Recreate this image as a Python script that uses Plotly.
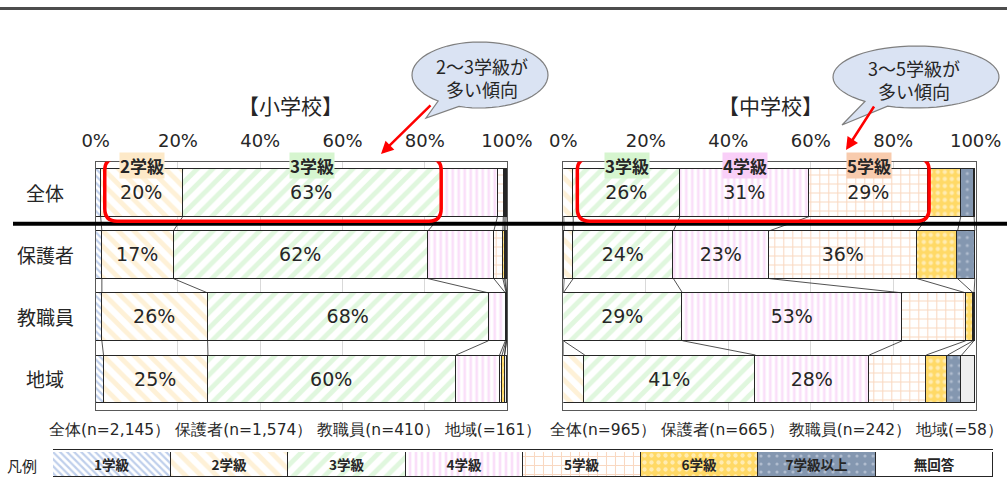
import plotly.graph_objects as go
import math

W, H = 1007, 477


def fx(px):
    return px / W


def fy(py):
    return 1 - py / H


# ---------------- data ----------------
categories = ["全体", "保護者", "教職員", "地域"]
series = ["1学級", "2学級", "3学級", "4学級", "5学級", "6学級", "7学級以上", "無回答"]

# 小学校 (%), order = categories
es_g1 = [1.2, 1.5, 1.5, 1.9]
es_g2 = [20.0, 17.4, 25.7, 25.4]
es_g3 = [62.6, 61.9, 68.3, 60.3]
es_g4 = [13.9, 16.0, 4.1, 10.6]
es_g5 = [1.4, 2.2, 0.2, 0.6]
es_g6 = [0.4, 0.4, 0.1, 0.6]
es_g7 = [0.3, 0.3, 0.0, 0.0]
es_na = [0.2, 0.3, 0.1, 0.6]

# 中学校 (%)
js_g1 = [0.1, 0.2, 0.0, 0.0]
js_g2 = [2.3, 2.2, 0.0, 5.2]
js_g3 = [25.9, 24.3, 28.9, 41.4]
js_g4 = [31.4, 23.3, 53.3, 27.6]
js_g5 = [28.8, 35.8, 15.4, 13.8]
js_g6 = [7.9, 9.8, 1.8, 5.2]
js_g7 = [3.2, 4.2, 0.2, 3.4]
js_na = [0.4, 0.2, 0.4, 3.4]

es_values = [es_g1, es_g2, es_g3, es_g4, es_g5, es_g6, es_g7, es_na]
js_values = [js_g1, js_g2, js_g3, js_g4, js_g5, js_g6, js_g7, js_na]

es_n_labels = ["全体(n=2,145）", "保護者(n=1,574）", "教職員(n=410）", "地域(=161）"]
js_n_labels = ["全体(n=965）", "保護者(n=665）", "教職員(n=242）", "地域(=58）"]

tick_vals = [0, 20, 40, 60, 80, 100]
tick_text = [f"{v}%" for v in tick_vals]
label_threshold = 17

es_title = "【小学校】"
js_title = "【中学校】"
es_highlight = ["2学級", "3学級"]
js_highlight = ["3学級", "4学級", "5学級"]
es_callout = "2～3学級が<br>多い傾向"
js_callout = "3～5学級が<br>多い傾向"

# ---------------- styles ----------------
CJK = "Noto Sans CJK JP"
NUM = "DejaVu Sans"
TXT = "#262626"

styles = {
    "1学級": dict(bg="#ffffff", fg="#7f9fd8", shape="\\", size=5, sol=0.45),
    "2学級": dict(bg="#ffffff", fg="#fde3b0", shape="\\", size=11, sol=0.45),
    "3学級": dict(bg="#ffffff", fg="#c2efbd", shape="/", size=11, sol=0.45),
    "4学級": dict(bg="#ffffff", fg="#f6c0f3", shape="|", size=6, sol=0.45),
    "5学級": dict(bg="#ffffff", fg="#f4b183", shape="+", size=9, sol=0.22),
    "6学級": dict(bg="#ffd966", fg="#ffffff", shape=".", size=7, sol=0.3),
    "7学級以上": dict(bg="#8497b0", fg="#dde4ee", shape=".", size=8, sol=0.12),
    "無回答": dict(bg="#eeeeee", fg="#eeeeee", shape="", size=8, sol=0.2),
}
label_bg = {"2学級": "#fde9c8", "3学級": "#d6f5cf", "4学級": "#f9cff8", "5学級": "#f8cbad"}

BAR_W = 0.77

fig = go.Figure()


def add_chart(values, xa, ya):
    ys = list(range(len(categories)))
    for name, vals in zip(series, values):
        st = styles[name]
        fig.add_trace(go.Bar(
            y=ys, x=vals, orientation="h", width=BAR_W,
            xaxis=xa, yaxis=ya, name=name, showlegend=False,
            marker=dict(color=st["bg"], line=dict(color=TXT, width=1),
                        pattern=dict(shape=st["shape"], fgcolor=st["fg"], bgcolor=st["bg"],
                                     size=st["size"], solidity=st["sol"], fillmode="overlay")),
            text=[f"{v:.0f}%" if v >= label_threshold else "" for v in vals],
            textposition="inside", insidetextanchor="middle", textangle=0,
            textfont=dict(family=NUM, size=19, color=TXT),
            hoverinfo="skip"))
    # series lines between bars
    cum = [[sum(values[k][i] for k in range(j + 1)) for j in range(len(series))]
           for i in range(len(categories))]
    half = BAR_W / 2
    xs, yy = [], []
    for i in range(len(categories) - 1):
        for j in range(len(series) - 1):
            xs += [cum[i][j], cum[i + 1][j], None]
            yy += [i + half, i + 1 - half, None]
    fig.add_trace(go.Scatter(x=xs, y=yy, mode="lines", xaxis=xa, yaxis=ya,
                             line=dict(color=TXT, width=0.8), showlegend=False, hoverinfo="skip"))
    return cum


es_cum = add_chart(es_values, "x", "y")
js_cum = add_chart(js_values, "x2", "y2")

# legend strip
for name in series:
    st = styles[name]
    bg = "#ffffff" if name == "無回答" else st["bg"]
    fig.add_trace(go.Bar(
        y=[0], x=[1], orientation="h", width=1, xaxis="x3", yaxis="y3", showlegend=False,
        marker=dict(color=bg, line=dict(color=TXT, width=1),
                    pattern=dict(shape=st["shape"], fgcolor=st["fg"] if name != "無回答" else "#ffffff",
                                 bgcolor=bg, size=st["size"], solidity=st["sol"], fillmode="overlay")),
        text=[f"<b>{name}</b>"], textposition="inside", insidetextanchor="middle", textangle=0,
        textfont=dict(family=CJK, size=15, color=TXT), hoverinfo="skip"))

# ---------------- layout ----------------
ydom = [fy(410), fy(161.5)]
xdom1 = [fx(95.7), fx(507)]
xdom2 = [fx(563.3), fx(975.7)]

axis_common = dict(range=[0, 100], side="top", tickmode="array", tickvals=tick_vals, ticktext=tick_text,
                   showgrid=True, gridcolor="#d9d9d9", gridwidth=1, showline=True, mirror=True,
                   linecolor="#595959", linewidth=1, zeroline=False, ticks="",
                   tickfont=dict(family=NUM, size=18, color=TXT), fixedrange=True,
                   ticklabelstandoff=6, automargin=False)
yaxis_common = dict(range=[len(categories) - 0.5, -0.5], domain=ydom, showticklabels=False,
                    showgrid=False, showline=True, mirror=True, linecolor="#595959",
                    linewidth=1, zeroline=False, ticks="", fixedrange=True, automargin=False)

fig.update_layout(
    width=W, height=H, margin=dict(l=0, r=0, t=0, b=0, autoexpand=False),
    paper_bgcolor="white", plot_bgcolor="white", barmode="stack", bargap=0,
    xaxis=dict(domain=xdom1, anchor="y", **axis_common),
    yaxis=dict(anchor="x", **yaxis_common),
    xaxis2=dict(domain=xdom2, anchor="y2", **axis_common),
    yaxis2=dict(anchor="x2", **yaxis_common),
    xaxis3=dict(domain=[fx(53), fx(993)], range=[0, len(series)], visible=False, anchor="y3",
                fixedrange=True, automargin=False),
    yaxis3=dict(domain=[0, fy(452)], range=[-0.5, 0.5], visible=False, anchor="x3",
                fixedrange=True, automargin=False),
    font=dict(family=CJK, color=TXT),
)

shapes = []
ann = []


def note(x, y, text, size, xref="paper", yref="paper", xanchor="center", family=CJK, **kw):
    d = dict(xref=xref, yref=yref, x=x, y=y, text=text, showarrow=False, xanchor=xanchor,
             yanchor="middle", font=dict(family=family, size=size, color=TXT))
    d.update(kw)
    ann.append(d)


# top rule and thick separator
shapes.append(dict(type="line", xref="paper", yref="paper", x0=0, x1=1, y0=fy(8.5), y1=fy(8.5),
                   line=dict(color="#4d4d4d", width=3)))
shapes.append(dict(type="line", xref="paper", yref="y", x0=fx(13), x1=1, y0=0.5, y1=0.5,
                   line=dict(color="black", width=4), layer="above"))
# legend double line
shapes.append(dict(type="line", xref="paper", yref="paper", x0=fx(53), x1=fx(993), y0=fy(449.5), y1=fy(449.5),
                   line=dict(color=TXT, width=1)))


def rounded_rect(x0, y0, x1, y1, rx, ry):
    return (f"M {x0+rx},{y0} L {x1-rx},{y0} Q {x1},{y0} {x1},{y0+ry} "
            f"L {x1},{y1-ry} Q {x1},{y1} {x1-rx},{y1} L {x0+rx},{y1} "
            f"Q {x0},{y1} {x0},{y1-ry} L {x0},{y0+ry} Q {x0},{y0} {x0+rx},{y0} Z")


def highlight(cum_row, names, xr, yr):
    i0 = series.index(names[0])
    i1 = series.index(names[-1])
    start = cum_row[i0 - 1] if i0 > 0 else 0
    end = cum_row[i1]
    x0 = start + 1.0
    x1 = end + 0.2
    shapes.append(dict(type="path", xref=xr, yref=yr,
                       path=rounded_rect(x0, -0.555, x1, 0.46, 3.0, 0.2),
                       line=dict(color="#ff0000", width=3.5), layer="above"))
    for nm in names:
        k = series.index(nm)
        s = cum_row[k - 1] if k > 0 else 0
        c = (s + cum_row[k]) / 2
        note(c, -0.43, f"<b>{nm}</b>", 17, xref=xr, yref=yr, bgcolor=label_bg[nm], borderpad=0)


highlight(es_cum[0], es_highlight, "x", "y")
highlight(js_cum[0], js_highlight, "x2", "y2")


def callout(cx, cy, rx, ry, t0, t1, tip, text, tx, ty):
    pts = []
    n = 60
    a0 = math.radians(t0)
    a1 = math.radians(t1) + 2 * math.pi
    for k in range(n + 1):
        a = a0 + (a1 - a0) * k / n
        pts.append((cx + rx * math.cos(a), cy + ry * math.sin(a)))
    pts.append(tip)
    path = "M " + " L ".join(f"{fx(px)},{fy(py)}" for px, py in pts) + " Z"
    shapes.append(dict(type="path", xref="paper", yref="paper", path=path,
                       fillcolor="#dae3f3", line=dict(color="#7f7f7f", width=1.2), layer="above"))
    note(fx(tx), fy(ty), text, 18, align="center")


callout(480, 75, 68, 33, 128, 108, (426, 118), es_callout, 482, 78)
callout(916, 77, 83, 31, 128, 110, (842, 125), js_callout, 914, 79)

# red arrows
ann.append(dict(xref="paper", yref="paper", x=fx(381), y=fy(154), ax=51, ay=-50, axref="pixel", ayref="pixel",
                text="", showarrow=True, arrowhead=2, arrowsize=1, arrowwidth=2.5, arrowcolor="#ff0000"))
ann.append(dict(xref="paper", yref="paper", x=fx(846), y=fy(150), ax=29, ay=-45, axref="pixel", ayref="pixel",
                text="", showarrow=True, arrowhead=2, arrowsize=1, arrowwidth=2.5, arrowcolor="#ff0000"))

# titles
note(fx(290), fy(105), es_title, 21)
note(fx(770), fy(105), js_title, 21)

# category labels
for i, c in enumerate(categories):
    note(fx(45), i, c, 19, yref="y")

# n labels (one line per chart)
note(fx(47), fy(430), " ".join(es_n_labels), 15.5, xanchor="left", family=NUM)
note(fx(548), fy(430), " ".join(js_n_labels), 15.5, xanchor="left", family=NUM)

note(fx(22), fy(465), "凡例", 15)

fig.update_layout(shapes=shapes, annotations=ann)
fig.write_html("out.html", post_script="document.body.style.margin='0';",
               config={"displayModeBar": False})
